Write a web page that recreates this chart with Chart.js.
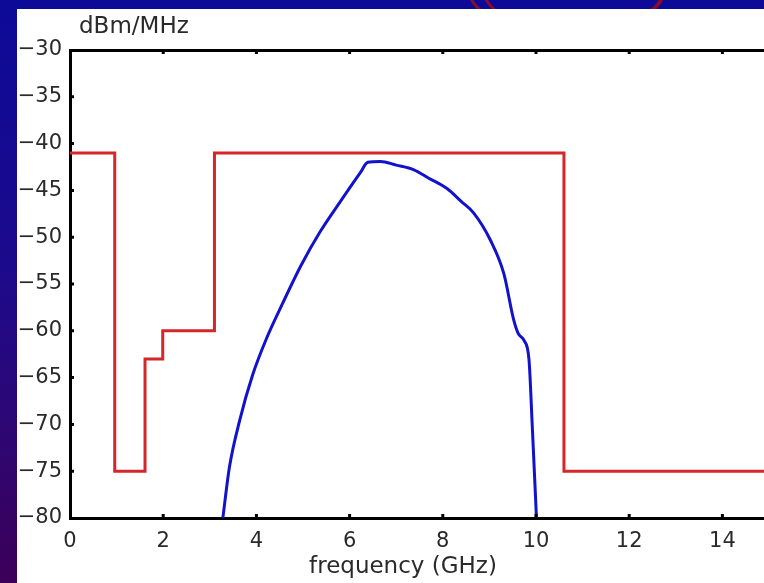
<!DOCTYPE html>
<html>
<head>
<meta charset="utf-8">
<script src="https://cdn.jsdelivr.net/npm/chart.js@4"></script>
<style>
  html, body { margin: 0; padding: 0; width: 764px; height: 583px; overflow: hidden; }
  body { position: relative; background: linear-gradient(to bottom, #0d0a98 0%, #1c0a8c 45%, #2e0672 75%, #3c0058 100%); }
  .deco { position: absolute; border: 3px solid #8a0c2c; border-radius: 50%; }
  #panel { position: absolute; left: 17px; top: 9px; width: 770px; height: 574px; background: #fff; }
</style>
</head>
<body>
<div class="deco" style="left:468px; top:-52px; width:190px; height:80px;"></div>
<div class="deco" style="left:482px; top:-56px; width:178px; height:84px;"></div>
<div id="panel"><canvas id="fcc" width="770" height="574"></canvas></div>
<script>
// FCC indoor mask (red) and pulse spectrum (blue)
const maskX = [0, 0.96, 0.96, 1.61, 1.61, 1.99, 1.99, 3.1, 3.1, 10.6, 10.6, 15];
const maskY = [-41, -41, -75, -75, -63, -63, -60, -60, -41, -41, -75, -75];

const pulseX = [3.28, 3.42, 3.64, 3.92, 4.21, 4.56, 4.96, 5.37, 5.80, 6.23, 6.39, 6.66, 7.0, 7.38, 7.7, 8.09, 8.4, 8.66, 9.02, 9.31, 9.52, 9.62, 9.74, 9.85, 9.92, 10.01];
const pulseY = [-80, -74.6, -69.6, -64.7, -60.9, -57.1, -53.0, -49.4, -46.2, -43.1, -42.0, -41.9, -42.3, -42.8, -43.7, -44.8, -46.2, -47.4, -50.3, -53.9, -58.8, -60.3, -61.0, -63.1, -70.2, -80];

const xTicks = [0, 2, 4, 6, 8, 10, 12, 14];
const yTicks = [-30, -35, -40, -45, -50, -55, -60, -65, -70, -75, -80];

const yUnit = 'dBm/MHz';
const xTitle = 'frequency (GHz)';

const textColor = '#2a2a2a';
const tickFont = { family: 'DejaVu Sans', size: 21 };

const toPoints = (xs, ys) => xs.map((x, i) => ({ x: x, y: ys[i] }));
const minus = v => String(v).replace('-', '\u2212');

// matlab style ticks pointing into the box, plus the axis texts
const boxExtras = {
  id: 'boxExtras',
  afterDatasetsDraw(chart) {
    const { ctx, chartArea } = chart;
    const xs = chart.scales.x, ys = chart.scales.y;
    ctx.save();
    ctx.strokeStyle = '#000';
    ctx.lineWidth = 3;
    ctx.beginPath();
    xTicks.forEach(v => {
      const px = xs.getPixelForValue(v);
      if (v === xs.min) return;
      ctx.moveTo(px, chartArea.bottom); ctx.lineTo(px, chartArea.bottom - 4);
      ctx.moveTo(px, chartArea.top); ctx.lineTo(px, chartArea.top + 4);
    });
    yTicks.forEach(v => {
      if (v === ys.min || v === ys.max) return;
      const py = ys.getPixelForValue(v);
      ctx.moveTo(chartArea.left, py); ctx.lineTo(chartArea.left + 4, py);
    });
    ctx.stroke();

    ctx.fillStyle = textColor;
    ctx.font = '23px "DejaVu Sans"';
    ctx.textBaseline = 'middle';
    ctx.textAlign = 'left';
    ctx.fillText(yUnit, chartArea.left + 9, 18);
    ctx.textAlign = 'center';
    ctx.fillText(xTitle, chartArea.left + 333, 558);
    ctx.restore();
  }
};

const fixedTicks = list => scale => { scale.ticks = list.map(v => ({ value: v })); };

new Chart(document.getElementById('fcc'), {
  type: 'scatter',
  data: {
    datasets: [
      {
        label: 'mask',
        data: toPoints(maskX, maskY),
        showLine: true,
        borderColor: '#d62629',
        borderWidth: 3,
        pointRadius: 0,
        tension: 0
      },
      {
        label: 'pulse',
        data: toPoints(pulseX, pulseY),
        showLine: true,
        borderColor: '#1212cc',
        borderWidth: 3,
        pointRadius: 0,
        cubicInterpolationMode: 'monotone'
      }
    ]
  },
  options: {
    responsive: false,
    animation: false,
    devicePixelRatio: 1,
    layout: { padding: { right: 18 } },
    plugins: { legend: { display: false }, tooltip: { enabled: false } },
    scales: {
      x: {
        type: 'linear',
        position: 'bottom',
        min: 0,
        max: 15,
        afterBuildTicks: fixedTicks(xTicks),
        afterFit: s => { s.height = 65; },
        grid: { drawOnChartArea: false, drawTicks: false },
        border: { display: true, color: '#000', width: 3 },
        ticks: { color: textColor, font: tickFont, padding: 11, maxRotation: 0, autoSkip: false }
      },
      top: {
        type: 'linear',
        position: 'top',
        min: 0,
        max: 15,
        afterFit: s => { s.height = 41; },
        grid: { drawOnChartArea: false, drawTicks: false },
        border: { display: true, color: '#000', width: 3 },
        ticks: { display: false }
      },
      y: {
        type: 'linear',
        position: 'left',
        min: -80,
        max: -30,
        afterBuildTicks: fixedTicks(yTicks),
        afterFit: s => { s.width = 53; },
        grid: { drawOnChartArea: false, drawTicks: false },
        border: { display: true, color: '#000', width: 3 },
        ticks: { color: textColor, font: tickFont, padding: 8, autoSkip: false, callback: v => minus(v) }
      }
    }
  },
  plugins: [boxExtras]
});
</script>
</body>
</html>
